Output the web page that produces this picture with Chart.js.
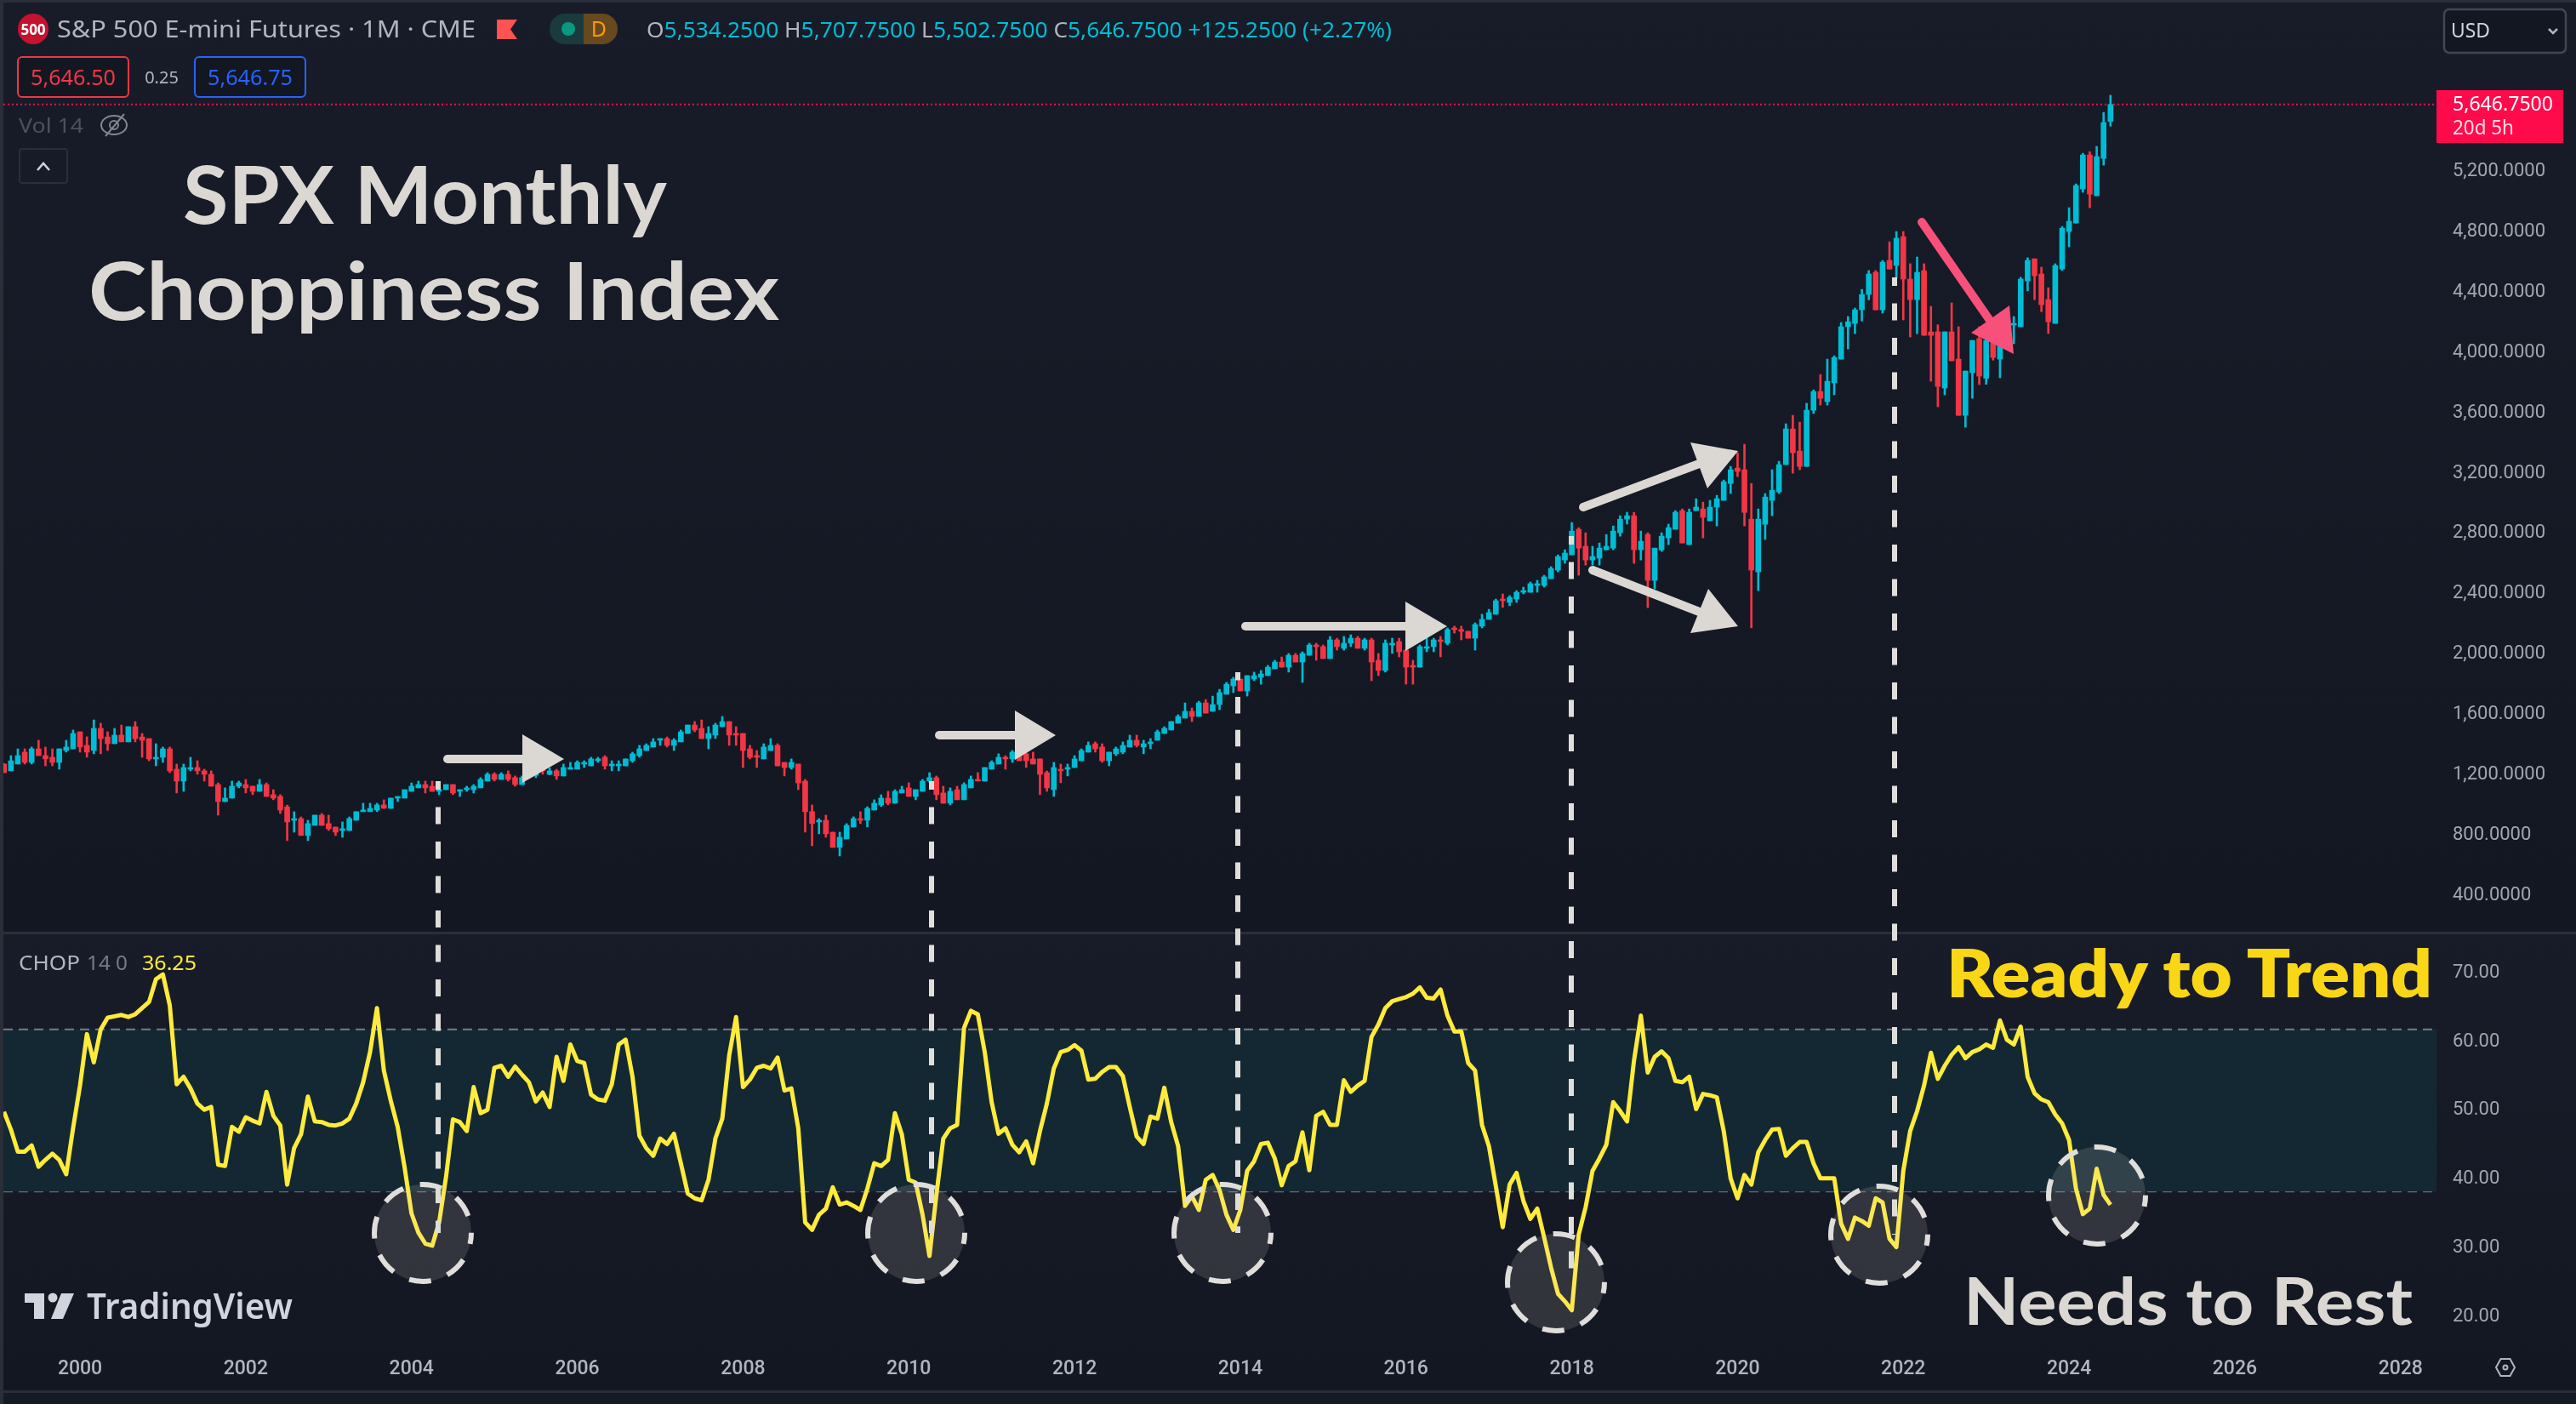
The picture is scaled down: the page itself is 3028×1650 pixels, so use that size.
<!DOCTYPE html>
<html>
<head>
<meta charset="utf-8">
<title>SPX Monthly Choppiness Index</title>
<script src="https://cdn.jsdelivr.net/npm/chart.js@4/dist/chart.umd.min.js"></script>
<style>
    html, body { margin: 0; padding: 0; background: #2a2e39; width: 3028px; height: 1650px; overflow: hidden; }
    .pane { position: absolute; left: 4px; right: 0; }
    #pane-top { top: 3px; height: 1092px; background: linear-gradient(#181c28, #131722); }
    #pane-bottom { top: 1098px; height: 536px; background: linear-gradient(#181c28, #131722); }
    #pane-foot { top: 1637px; height: 13px; background: #161a25; }
    canvas { position: absolute; left: 0; }
    #priceChart { top: 0; }
    #chopChart { top: 1096px; }
    #overlay { position: absolute; left: 0; top: 0; }
    #overlay text { font-family: "Noto Sans", sans-serif; }
    #overlay text.big { font-family: Lato, sans-serif; font-weight: 700; }
    #overlay text.heavy { font-weight: 800; }
</style>
</head>
<body>
<div class="pane" id="pane-top"></div>
<div class="pane" id="pane-bottom"></div>
<div class="pane" id="pane-foot"></div>
<canvas id="priceChart" width="3028" height="1096"></canvas>
<canvas id="chopChart" width="3028" height="554"></canvas>

<svg id="overlay" width="3028" height="1650" xmlns="http://www.w3.org/2000/svg">
    <!-- header -->
    <circle cx="39" cy="34" r="18" fill="#c4122f"/>
    <text x="39" y="41" font-size="17" font-weight="700" fill="#fff" text-anchor="middle">500</text>
    <text x="67" y="44" font-size="28" fill="#b2b5be" textLength="492" lengthAdjust="spacingAndGlyphs">S&amp;P 500 E-mini Futures · 1M · CME</text>
    <polygon points="584,23 608,23 600,34.5 608,46 584,46" fill="#ff5252"/>
    <path d="M664,16 H686 V52 H664 A18,18 0 0 1 664,16 Z" fill="#1b3a3d"/>
    <path d="M686,16 H708 A18,18 0 0 1 708,52 H686 Z" fill="#66491f"/>
    <circle cx="668" cy="34" r="8" fill="#089981"/>
    <text x="704" y="43" font-size="25" fill="#ff9800" text-anchor="middle">D</text>
    <text x="760" y="44" font-size="26" fill="#b2b5be" textLength="876" lengthAdjust="spacingAndGlyphs">O<tspan fill="#00bcd4">5,534.2500</tspan> H<tspan fill="#00bcd4">5,707.7500</tspan> L<tspan fill="#00bcd4">5,502.7500</tspan> C<tspan fill="#00bcd4">5,646.7500</tspan> <tspan fill="#00bcd4">+125.2500 (+2.27%)</tspan></text>

    <rect x="21" y="67" width="130" height="47" rx="5" fill="#131722" stroke="#f23645" stroke-width="2"/>
    <text x="86" y="100" font-size="25" fill="#f23645" text-anchor="middle" textLength="100" lengthAdjust="spacingAndGlyphs">5,646.50</text>
    <text x="190" y="98" font-size="20" fill="#b2b5be" text-anchor="middle">0.25</text>
    <rect x="229" y="67" width="130" height="47" rx="5" fill="#131722" stroke="#2962ff" stroke-width="2"/>
    <text x="294" y="100" font-size="25" fill="#2962ff" text-anchor="middle" textLength="100" lengthAdjust="spacingAndGlyphs">5,646.75</text>

    <text x="22" y="156" font-size="24" fill="#4e515c" textLength="76" lengthAdjust="spacingAndGlyphs">Vol 14</text>
    <ellipse cx="134" cy="147" rx="15" ry="11" fill="none" stroke="#83868f" stroke-width="2"/>
    <circle cx="134" cy="147" r="5" fill="none" stroke="#83868f" stroke-width="2"/>
    <line x1="124" y1="160" x2="146" y2="134" stroke="#83868f" stroke-width="2"/>
    <rect x="23" y="175" width="56" height="40" rx="3" fill="none" stroke="#2a2e39" stroke-width="2"/>
    <polyline points="44,200 51,192 58,200" fill="none" stroke="#d1d4dc" stroke-width="2.5"/>

    <rect x="2873" y="11" width="143" height="51" rx="6" fill="#131722" stroke="#434651" stroke-width="2.5"/>
    <text x="2881" y="44" font-size="24" fill="#d1d4dc" textLength="46" lengthAdjust="spacingAndGlyphs">USD</text>
    <polyline points="2996,34 3001,39 3006,34" fill="none" stroke="#b2b5be" stroke-width="2.5"/>

    <rect x="2864" y="106" width="149" height="62" fill="#ff0a4a"/>
    <text x="2883" y="130" font-size="24" fill="#fff" textLength="118" lengthAdjust="spacingAndGlyphs">5,646.7500</text>
    <text x="2883" y="158" font-size="24" fill="#ffd9e3" textLength="72" lengthAdjust="spacingAndGlyphs">20d 5h</text>

    <!-- titles -->
    <text class="big" x="215" y="263" font-size="93" fill="#dbd8d3" textLength="569" lengthAdjust="spacingAndGlyphs">SPX Monthly</text>
    <text class="big" x="104" y="376" font-size="93" fill="#dbd8d3" textLength="812" lengthAdjust="spacingAndGlyphs">Choppiness Index</text>
    <text class="big heavy" x="2288" y="1172" font-size="77" fill="#f9d616" textLength="571" lengthAdjust="spacingAndGlyphs">Ready to Trend</text>
    <text class="big" x="2308" y="1557" font-size="77" fill="#dbd8d3" textLength="528" lengthAdjust="spacingAndGlyphs">Needs to Rest</text>

    <!-- chop legend -->
    <text x="22" y="1140" font-size="24" fill="#b2b5be" textLength="72" lengthAdjust="spacingAndGlyphs">CHOP</text>
    <text x="102" y="1140" font-size="24" fill="#787b86" textLength="48" lengthAdjust="spacingAndGlyphs">14 0</text>
    <text x="167" y="1140" font-size="24" fill="#ffeb3b" textLength="64" lengthAdjust="spacingAndGlyphs">36.25</text>

    <!-- dashed drop lines -->
    <g stroke="#e0dedb" stroke-width="6" stroke-dasharray="20 20.5" stroke-dashoffset="10">
        <line x1="515" y1="918" x2="515" y2="1449"/>
        <line x1="1095" y1="918" x2="1095" y2="1449"/>
        <line x1="1455" y1="790" x2="1455" y2="1449" stroke-dasharray="19.5 19.4"/>
        <line x1="1847" y1="630" x2="1847" y2="1508"/>
        <line x1="2227" y1="326" x2="2227" y2="1451"/>
    </g>

    <!-- rest circles -->
    <g fill="#dbd8d3" fill-opacity="0.15" stroke="#e0dedb" stroke-width="6" stroke-dasharray="26 20.3" stroke-dashoffset="13">
        <circle cx="497" cy="1449" r="57"/>
        <circle cx="1077" cy="1449" r="57"/>
        <circle cx="1437" cy="1449" r="57"/>
        <circle cx="1829" cy="1507" r="57"/>
        <circle cx="2209" cy="1451" r="57"/>
        <circle cx="2465" cy="1405" r="57"/>
    </g>

    <!-- arrows -->
    <g stroke="#dbd8d3" stroke-width="10" stroke-linecap="round" fill="#dbd8d3">
        <line x1="526" y1="892" x2="620" y2="892"/>
        <line x1="1104" y1="864" x2="1198" y2="864"/>
        <line x1="1464" y1="736" x2="1658" y2="736"/>
        <line x1="1861" y1="596" x2="2000" y2="544"/>
        <line x1="1872" y1="670" x2="2000" y2="720"/>
    </g>
    <g fill="#dbd8d3">
        <polygon points="614,863 663,892 614,920"/>
        <polygon points="1193,835 1241,864 1193,893"/>
        <polygon points="1652,707 1701,736 1652,765"/>
        <polygon points="1987,520 2043,530 2007,574"/>
        <polygon points="2008,692 2043,736 1987,744"/>
    </g>
    <line x1="2259" y1="261" x2="2340" y2="378" stroke="#f7507a" stroke-width="10" stroke-linecap="round"/>
    <polygon points="2362,359 2367,416 2317,391" fill="#f7507a"/>

    <!-- logo -->
    <g fill="#d1d4dc">
        <polygon points="29,1520 52,1520 52,1550 40,1550 40,1531 29,1531"/>
        <circle cx="62" cy="1525" r="5.5"/>
        <polygon points="72,1520 87,1520 74,1550 60,1550"/>
    </g>
    <text x="102" y="1550" font-size="42" font-weight="600" fill="#d1d4dc" textLength="242" lengthAdjust="spacingAndGlyphs">TradingView</text>

    <!-- settings icon -->
    <polygon points="2934,1607 2939.5,1597 2950.5,1597 2956,1607 2950.5,1617 2939.5,1617" fill="none" stroke="#b2b5be" stroke-width="2"/>
    <circle cx="2945" cy="1607" r="2.5" fill="none" stroke="#b2b5be" stroke-width="2"/>
</svg>

<script>
// monthly candles, Feb 1999 -> Jul 2024 (one line per year)
const opens = [
    1270,1225,1270,1349,1281,1371,1326,1315,1281,1360,1371,
    1484,1394,1360,1507,1450,1405,1462,1417,1518,1450,1439,1304,
    1315,1371,1236,1157,1236,1247,1225,1202,1134,1021,1044,1123,
    1134,1123,1089,1134,1067,1055,986,897,908,796,863,931,
    875,852,829,829,897,954,954,965,999,976,1044,1044,
    1089,1112,1134,1123,1089,1100,1134,1089,1100,1100,1112,1157,
    1202,1168,1202,1180,1134,1188,1195,1235,1202,1225,1191,1236,
    1236,1270,1258,1292,1315,1258,1258,1258,1292,1326,1360,1383,
    1428,1439,1394,1417,1473,1529,1507,1439,1462,1518,1552,1473,
    1473,1371,1326,1304,1360,1394,1281,1247,1270,1157,954,886,
    897,818,717,773,852,908,897,965,999,1044,1010,1078,
    1112,1055,1089,1157,1180,1078,1010,1100,1033,1112,1168,1157,
    1236,1270,1315,1304,1338,1338,1304,1304,1213,1100,1236,1236,
    1247,1292,1349,1405,1383,1292,1338,1349,1383,1428,1383,1405,
    1428,1473,1496,1541,1575,1620,1586,1676,1620,1665,1733,1789,
    1834,1755,1834,1846,1857,1902,1947,1913,1992,1947,1992,2060,
    2049,1970,2094,2038,2072,2105,2038,2094,1959,1891,2060,2083,
    2026,1925,1913,2038,2049,2094,2072,2173,2162,2151,2105,2185,
    2230,2264,2365,2343,2365,2410,2410,2455,2455,2500,2557,2624,
    2658,2828,2715,2624,2636,2692,2703,2805,2895,2918,2692,2794,
    2489,2692,2771,2828,2952,2726,2952,2963,2884,2975,3020,3132,
    3234,3223,2895,2545,2861,3020,3076,3257,3494,3347,3245,3618,
    3742,3675,3799,3957,4172,4194,4284,4386,4533,4284,4612,4578,
    4770,4488,4352,4544,4138,4138,3765,4138,3957,3584,3867,4093,
    3830,4090,3957,4110,4183,4172,4476,4623,4522,4352,4194,4555,
    4804,4860,5086,5312,5041,5289,5534.25
];
const highs = [
    1274,1326,1371,1371,1383,1428,1383,1371,1371,1428,1496,
    1484,1451,1563,1541,1484,1507,1529,1518,1552,1473,1439,1405,
    1383,1383,1270,1270,1315,1292,1236,1225,1145,1112,1157,1157,
    1168,1123,1168,1145,1100,1067,998,954,919,897,931,942,
    931,852,886,919,954,1010,1010,1010,1033,1044,1055,1100,
    1145,1157,1157,1157,1123,1134,1134,1100,1123,1134,1180,1213,
    1213,1213,1225,1191,1191,1219,1245,1245,1244,1235,1270,1281,
    1292,1292,1315,1315,1326,1292,1292,1304,1349,1394,1405,1439,
    1439,1450,1439,1496,1529,1552,1563,1518,1541,1586,1552,1518,
    1473,1394,1360,1405,1439,1405,1281,1304,1270,1168,999,908,
    931,818,818,875,920,954,987,1033,1066,1089,1100,1123,
    1146,1100,1168,1213,1191,1123,1112,1123,1146,1191,1213,1247,
    1292,1338,1326,1360,1360,1353,1349,1304,1224,1281,1270,1270,
    1326,1371,1417,1417,1405,1349,1383,1417,1462,1462,1428,1439,
    1496,1518,1552,1597,1676,1642,1687,1698,1721,1766,1812,1846,
    1834,1857,1880,1891,1925,1959,1981,2004,2004,2015,2072,2072,
    2060,2117,2105,2117,2128,2117,2105,2105,2004,2094,2105,2105,
    2026,1959,2060,2105,2105,2117,2173,2185,2185,2151,2207,2264,
    2297,2365,2399,2388,2421,2444,2478,2489,2523,2580,2658,2692,
    2873,2839,2805,2715,2737,2793,2850,2918,2941,2940,2816,2805,
    2703,2805,2862,2952,2963,2963,3031,3008,3020,3053,3155,3245,
    3336,3392,3132,2963,3065,3223,3279,3528,3584,3539,3664,3753,
    3855,3957,3979,4200,4240,4296,4420,4545,4545,4612,4736,4804,
    4804,4590,4635,4590,4307,4185,4138,4330,4172,3878,4081,4172,
    4100,4105,4108,4170,4240,4500,4630,4623,4567,4431,4590,4837,
    4962,5120,5323,5334,5369,5594,5707.75
];
const lows = [
    1213,1225,1270,1270,1270,1326,1258,1258,1236,1349,1371,
    1349,1315,1338,1338,1360,1405,1417,1417,1417,1315,1292,1258,
    1281,1213,1078,1089,1225,1202,1157,1123,931,1021,1044,1112,
    1078,1067,1089,1055,1033,942,762,818,796,762,863,863,
    829,796,784,829,897,954,954,954,976,976,1021,1044,
    1089,1112,1078,1089,1067,1100,1067,1055,1089,1078,1112,1157,
    1157,1168,1157,1123,1134,1176,1180,1202,1198,1168,1191,1236,
    1236,1247,1258,1281,1236,1225,1225,1258,1281,1315,1360,1383,
    1394,1383,1360,1417,1473,1484,1439,1371,1439,1518,1394,1394,
    1247,1304,1247,1304,1360,1258,1191,1236,1100,818,728,807,
    784,717,660,773,852,875,852,965,988,999,1010,1078,
    1055,1033,1089,1150,1033,1010,999,1033,1033,1112,1157,1157,
    1236,1270,1236,1281,1292,1247,1270,1067,1089,1055,1146,1191,
    1247,1292,1349,1349,1281,1258,1326,1338,1383,1383,1338,1371,
    1428,1473,1496,1541,1575,1552,1586,1608,1620,1631,1733,1744,
    1755,1721,1823,1800,1857,1902,1913,1880,1947,1812,1992,1959,
    1970,1970,2026,2026,2049,2038,2026,1823,1857,1880,2004,1981,
    1800,1800,1913,2015,2015,1981,2060,2139,2094,2105,2026,2173,
    2230,2264,2309,2320,2343,2399,2410,2410,2444,2500,2545,2602,
    2658,2523,2590,2590,2590,2692,2692,2782,2862,2602,2624,2308,
    2432,2681,2726,2828,2737,2726,2952,2771,2884,2850,3020,3065,
    3178,2850,2174,2421,2760,2918,3065,3257,3200,3223,3245,3596,
    3652,3652,3720,3957,4025,4126,4210,4350,4284,4262,4555,4495,
    4217,4104,4126,4115,3810,3641,3720,3946,3584,3505,3697,3788,
    3790,3950,3833,4060,4059,4172,4410,4352,4272,4127,4194,4545,
    4702,4860,5064,4962,5041,5244,5502.75
];
const closes = [
    1213,1292,1326,1281,1371,1326,1304,1281,1371,1383,1473,
    1383,1349,1507,1439,1405,1462,1417,1518,1439,1428,1304,1315,
    1371,1225,1157,1247,1247,1225,1202,1123,1021,1044,1123,1145,
    1112,1089,1134,1055,1044,965,886,908,796,875,931,863,
    841,818,841,908,954,965,976,999,976,1044,1055,1100,
    1123,1134,1112,1089,1100,1134,1078,1100,1112,1123,1168,1202,
    1168,1202,1168,1134,1180,1198,1235,1225,1225,1191,1247,1247,
    1281,1281,1304,1304,1258,1270,1270,1304,1338,1371,1394,1417,
    1439,1394,1428,1484,1529,1496,1439,1473,1529,1552,1462,1462,
    1360,1315,1315,1383,1394,1258,1247,1281,1145,954,875,897,
    807,717,784,863,908,897,976,1010,1044,1010,1089,1100,
    1055,1100,1157,1180,1067,1010,1089,1033,1134,1168,1157,1247,
    1281,1315,1304,1349,1292,1292,1270,1202,1112,1247,1225,1247,
    1304,1360,1394,1371,1292,1349,1371,1394,1428,1394,1405,1417,
    1484,1507,1552,1586,1620,1586,1676,1608,1665,1744,1800,1834,
    1755,1857,1857,1868,1913,1947,1913,1992,1947,2004,2060,2049,
    1970,2094,2049,2072,2105,2038,2094,1947,1891,2072,2072,2015,
    1913,1913,2049,2049,2094,2083,2162,2162,2151,2105,2196,2230,
    2275,2354,2354,2376,2410,2421,2467,2467,2512,2568,2647,2670,
    2816,2703,2624,2647,2703,2715,2816,2895,2918,2692,2748,2489,
    2703,2782,2839,2941,2737,2941,2975,2907,2975,3031,3144,3223,
    3212,2940,2557,2895,3042,3087,3257,3494,3336,3245,3618,3742,
    3697,3810,3968,4172,4205,4284,4386,4522,4284,4601,4555,4759,
    4488,4352,4533,4115,4115,3776,4138,3946,3584,3878,4081,3844,
    4081,3968,4108,4170,4194,4488,4612,4510,4318,4205,4578,4826,
    4872,5109,5312,5052,5301,5527,5646.75
];
// choppiness index, same months
const chopValues = [
    49.8,47.2,44.0,44.0,44.9,41.8,42.8,43.7,42.8,40.7,47.4,
    53.6,61.1,57.0,61.8,63.5,63.7,63.9,63.6,64.0,64.9,65.8,69.1,
    69.8,65.3,53.8,54.9,53.2,51.0,50.1,50.5,42.1,41.9,47.6,46.9,
    49.0,48.5,48.1,52.7,49.2,47.8,39.2,44.5,46.5,52.0,48.4,48.3,
    47.9,47.8,48.1,48.8,51.0,54.1,58.5,64.9,55.8,51.4,47.6,41.7,
    35.0,32.2,30.6,30.3,33.7,40.3,48.7,48.3,47.0,53.4,49.6,50.1,
    56.2,56.5,54.9,56.4,55.2,54.1,51.3,52.6,50.5,57.8,54.3,59.6,
    57.2,56.9,52.3,51.6,51.4,53.8,59.6,60.3,54.9,46.3,44.5,43.4,
    45.9,45.1,46.6,42.3,37.9,37.2,36.9,39.9,45.9,48.8,58.0,63.6,
    53.4,54.5,56.2,56.5,56.1,57.7,52.9,53.2,47.4,33.7,32.6,34.8,
    35.7,38.8,36.3,36.6,36.1,35.5,38.6,42.3,41.9,42.8,49.6,46.5,
    39.9,39.5,34.8,28.8,37.7,45.9,47.4,47.9,62.0,64.5,64.0,58.5,
    51.2,46.6,47.4,45.0,43.9,45.5,42.3,47.0,51.0,56.1,58.5,58.8,
    59.5,58.7,54.5,54.6,55.6,56.3,56.3,55.0,50.5,46.2,45.1,49.1,
    48.8,53.3,48.3,44.8,36.1,37.5,35.5,39.9,40.6,38.4,34.8,32.6,
    35.5,41.2,42.6,45.1,45.3,43.0,39.1,41.9,42.6,46.8,41.3,49.2,
    49.8,47.9,47.9,54.4,52.7,53.6,54.3,60.7,62.5,64.9,65.9,66.2,
    66.5,67.0,67.9,66.4,66.3,67.6,63.8,61.5,61.5,56.9,55.8,47.9,
    44.8,39.0,33.0,39.2,40.9,36.8,34.2,35.7,31.5,27.1,23.3,22.2,
    20.9,31.9,35.9,41.2,43.0,45.0,51.2,49.9,48.4,57.2,63.8,55.5,
    57.8,58.6,57.6,54.3,54.1,54.9,50.2,52.4,52.2,51.9,47.0,40.1,
    37.2,40.6,39.2,43.9,45.7,47.2,47.3,43.4,44.5,45.4,45.4,42.3,
    40.1,40.1,40.1,33.5,31.3,34.4,33.9,33.2,37.2,36.6,31.3,30.1,
    41.2,47.0,49.9,53.6,58.4,54.6,56.5,58.1,59.2,57.6,58.5,58.9,
    59.6,59.1,63.1,60.3,59.6,62.2,54.9,52.5,51.6,51.2,49.4,48.1,
    45.7,38.6,34.9,35.7,41.5,37.7,36.25
];
const priceTicks = [400, 800, 1200, 1600, 2000, 2400, 2800, 3200, 3600, 4000, 4400, 4800, 5200];
const chopTicks = [20, 30, 40, 50, 60, 70];
const chopLevels = [61.8, 50, 38.2];
const yearLabels = [2000, 2002, 2004, 2006, 2008, 2010, 2012, 2014, 2016, 2018, 2020, 2022, 2024, 2026, 2028];

const RED = "#f23645";
const TEAL = "#00bcd4";
const AXIS_FONT = { family: "Roboto, sans-serif", size: 22 };

// x axis counts months from Feb 1999
const xMin = -0.09;
const xMax = 352.2;
const monthOfYear = year => (year - 1999) * 12 - 1;
const yearOfMonth = month => 1999 + (month + 1) / 12;

function candleColor(ctx) {
    const i = ctx.dataIndex;
    return closes[i] >= opens[i] ? TEAL : RED;
}

// drop the room Chart.js keeps for half a tick label, panes run edge to edge
function fitRightAxis(scale) {
    scale.width = 164;
    scale.paddingTop = 0;
    scale.paddingBottom = 0;
}

function fitBottomAxis(scale) {
    scale.height = 72;
    scale.paddingLeft = 0;
    scale.paddingRight = 0;
}

function setTicks(values) {
    return scale => {
        scale.ticks = values.map(value => ({ value }));
    };
}

new Chart(document.getElementById("priceChart"), {
    type: "bar",
    data: {
        datasets: [
            {
                label: "body",
                order: 1,
                data: opens.map((o, i) => ({ x: i, y: [o, closes[i]] })),
                backgroundColor: candleColor,
                barThickness: 6,
                grouped: false
            },
            {
                label: "wick",
                order: 2,
                data: lows.map((l, i) => ({ x: i, y: [l, highs[i]] })),
                backgroundColor: candleColor,
                barThickness: 2,
                grouped: false
            },
            {
                type: "line",
                label: "last",
                order: 3,
                data: [{ x: xMin, y: closes[closes.length - 1] }, { x: xMax, y: closes[closes.length - 1] }],
                borderColor: "#ff0a4a",
                borderWidth: 2,
                borderDash: [2, 3],
                pointRadius: 0
            }
        ]
    },
    options: {
        responsive: false,
        animation: false,
        devicePixelRatio: 1,
        layout: { padding: { left: 4, top: 4, right: 0, bottom: 0 } },
        plugins: { legend: { display: false }, tooltip: { enabled: false } },
        scales: {
            x: { type: "linear", offset: false, min: xMin, max: xMax, display: false, grid: { display: false } },
            y: {
                type: "linear",
                position: "right",
                min: 151.6,
                max: 6317.6,
                afterFit: fitRightAxis,
                afterBuildTicks: setTicks(priceTicks),
                border: { display: false },
                grid: { display: false, drawTicks: false },
                ticks: {
                    color: "#a3a6af",
                    font: AXIS_FONT,
                    padding: 19,
                    crossAlign: "near",
                    callback: value => value.toLocaleString("en-US", { minimumFractionDigits: 4 })
                }
            }
        }
    }
});

new Chart(document.getElementById("chopChart"), {
    type: "line",
    data: {
        datasets: [
            {
                label: "CHOP",
                order: 1,
                data: chopValues.map((v, i) => ({ x: i, y: v })),
                borderColor: "#ffeb3b",
                borderWidth: 5,
                borderJoinStyle: "round",
                tension: 0,
                pointRadius: 0
            },
            {
                label: "upper",
                order: 2,
                data: [{ x: xMin, y: chopLevels[0] }, { x: xMax, y: chopLevels[0] }],
                borderColor: "#787b86",
                borderWidth: 2,
                borderDash: [11, 7],
                pointRadius: 0,
                fill: { target: { value: chopLevels[2] } },
                backgroundColor: "#142834"
            },
            {
                label: "middle",
                order: 2,
                data: [{ x: xMin, y: chopLevels[1] }, { x: xMax, y: chopLevels[1] }],
                borderColor: "#5d626e",
                borderWidth: 2,
                borderDash: [11, 7],
                pointRadius: 0
            },
            {
                label: "lower",
                order: 2,
                data: [{ x: xMin, y: chopLevels[2] }, { x: xMax, y: chopLevels[2] }],
                borderColor: "#787b86",
                borderWidth: 2,
                borderDash: [11, 7],
                pointRadius: 0
            }
        ]
    },
    options: {
        responsive: false,
        animation: false,
        devicePixelRatio: 1,
        layout: { padding: { left: 4, top: 0, right: 0, bottom: 0 } },
        plugins: { legend: { display: false }, tooltip: { enabled: false } },
        scales: {
            x: {
                type: "linear",
                min: xMin,
                max: xMax,
                afterFit: fitBottomAxis,
                afterBuildTicks: setTicks(yearLabels.map(monthOfYear)),
                border: { display: false },
                grid: { display: false, drawTicks: false },
                ticks: {
                    color: "#b2b5be",
                    font: { family: "Roboto, sans-serif", size: 23, weight: "500" },
                    padding: 17,
                    maxRotation: 0,
                    autoSkip: false,
                    callback: value => String(yearOfMonth(value))
                }
            },
            y: {
                type: "linear",
                position: "right",
                min: 16.17,
                max: 75.89,
                afterFit: fitRightAxis,
                afterBuildTicks: setTicks(chopTicks),
                border: { display: false },
                grid: { display: false, drawTicks: false },
                ticks: {
                    color: "#a3a6af",
                    font: AXIS_FONT,
                    padding: 19,
                    crossAlign: "near",
                    callback: value => value.toFixed(2)
                }
            }
        }
    }
});
</script>
</body>
</html>
